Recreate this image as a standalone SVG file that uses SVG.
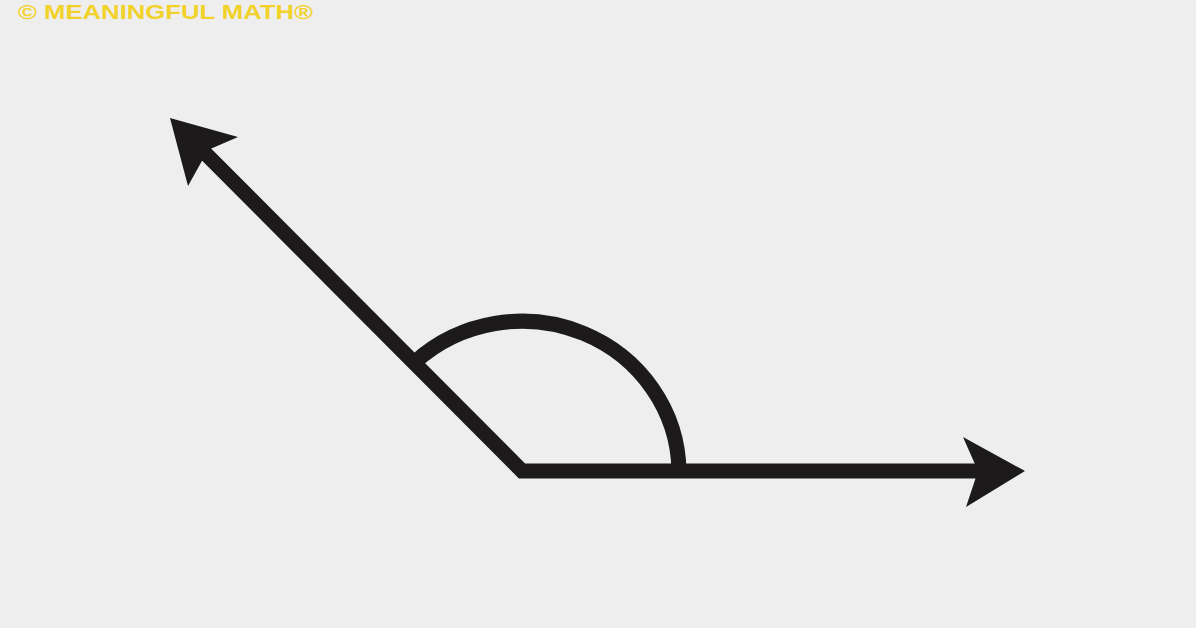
<svg xmlns="http://www.w3.org/2000/svg" width="1196" height="628" viewBox="0 0 1196 628">
<style>
.ray{fill:none;stroke:#1c1a1a;stroke-width:15;stroke-linejoin:miter;stroke-miterlimit:10}
.head{fill:#1c1a1a}
.brand{font-family:"Liberation Sans",Arial,sans-serif;font-weight:bold;font-size:21px;fill:#f2d22a}
</style>
<rect width="1196" height="628" fill="#eeeeee"/>
<g id="watermark"><text class="brand" x="18" y="19" textLength="295" lengthAdjust="spacingAndGlyphs">© MEANINGFUL MATH®</text></g>
<g id="connectors">
<polyline class="ray" points="200,148 522,471 990,471"/>
<path class="ray" d="M415,362 A157,152 0 0 1 679,471"/>
<polygon class="head" points="1025,471 963,437 978,471 966,507"/>
<polygon class="head" points="170,118 238,137 208,150 188,186"/>
</g>
</svg>
